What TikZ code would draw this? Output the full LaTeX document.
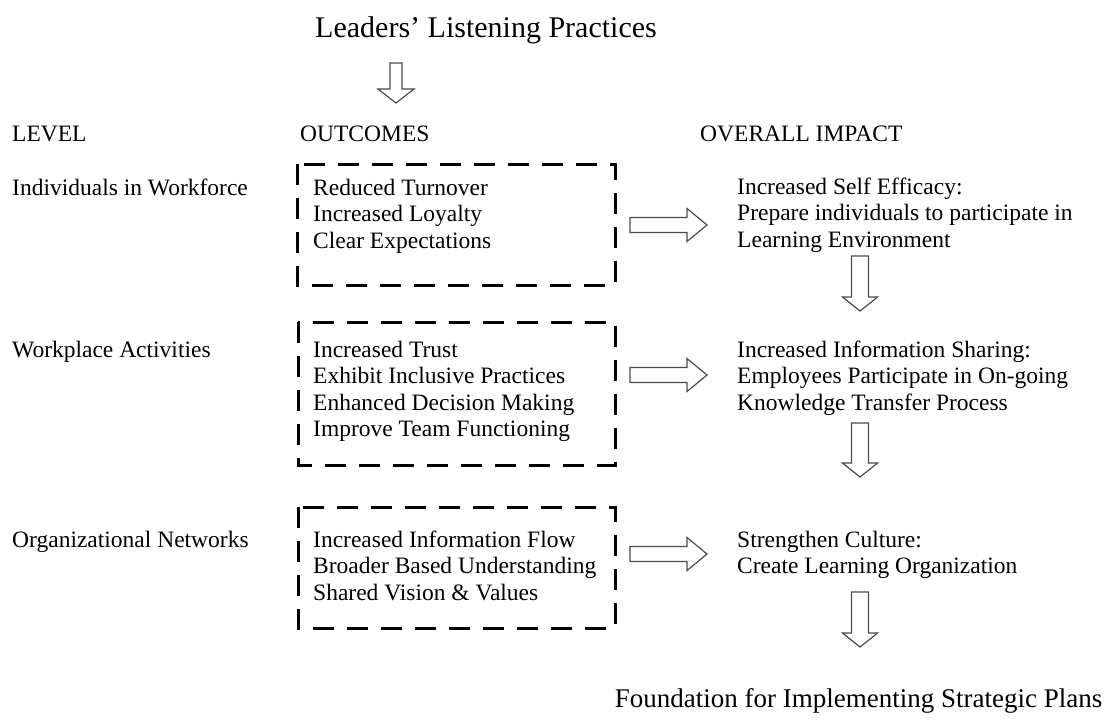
\documentclass[tikz,border=0pt]{standalone}
\usepackage{fontspec}
\setmainfont{Liberation Serif}
\usetikzlibrary{calc}
\newcommand\DArrow[5]{%
  \draw[blockarrow] ($(#1)+(-#3,0)$) -- ($(#2)+(-#3,-#5)$) -- ($(#2)+(-#4,-#5)$) -- (#2)
    -- ($(#2)+(#4,-#5)$) -- ($(#2)+(#3,-#5)$) -- ($(#1)+(#3,0)$) -- cycle;}
\newcommand\RArrow[5]{%
  \draw[blockarrow] ($(#1)+(0,-#3)$) -- ($(#2)+(-#5,-#3)$) -- ($(#2)+(-#5,-#4)$) -- (#2)
    -- ($(#2)+(-#5,#4)$) -- ($(#2)+(-#5,#3)$) -- ($(#1)+(0,#3)$) -- cycle;}
\newcommand\DashBox[1]{%
  \draw[dashline] (#1.north west) -- (#1.south west) -- (#1.south east) -- (#1.north east) -- cycle;}
\begin{document}
\begin{tikzpicture}[x=1pt,y=-1pt,
  txt/.style={anchor=base west, inner sep=0pt, font=\fontsize{23.5}{26.6}\selectfont},
  bigtitle/.style={anchor=base, inner sep=0pt, font=\fontsize{30}{32}\selectfont},
  foot/.style={anchor=base, inner sep=0pt, font=\fontsize{27}{30}\selectfont},
  boxarea/.style={inner sep=0pt, outer sep=0pt},
  dashline/.style={line width=3pt, dash pattern=on 21pt off 13pt, line join=miter},
  blockarrow/.style={draw=black!70, line width=1.2pt, fill=white, line join=miter}]
\useasboundingbox (0,0) rectangle (1107,721);

% title
\node[bigtitle] (title) at (486,37) {Leaders’ Listening Practices};

% headers
\node[txt] (hlevel) at (12,141) {LEVEL};
\node[txt] (hout) at (300,141) {OUTCOMES};
\node[txt] (himp) at (700,141) {OVERALL IMPACT};

% row labels
\node[txt] (lev1) at (12,195) {Individuals in Workforce};
\node[txt] (lev2) at (12,357) {Workplace Activities};
\node[txt] (lev3) at (12,547) {Organizational Networks};

% dashed boxes
\node[boxarea, minimum width=318pt, minimum height=121pt] (b1) at (456,224.5) {};
\node[boxarea, minimum width=317pt, minimum height=143pt] (b2) at (456.5,393.5) {};
\node[boxarea, minimum width=317pt, minimum height=121pt] (b3) at (456.5,567.5) {};
\DashBox{b1}
\DashBox{b2}
\DashBox{b3}

% outcomes
\node[txt] (o1a) at (313,195) {Reduced Turnover};
\node[txt] (o1b) at (313,221.6) {Increased Loyalty};
\node[txt] (o1c) at (313,248.2) {Clear Expectations};

\node[txt] (o2a) at (313,357) {Increased Trust};
\node[txt] (o2b) at (313,383.6) {Exhibit Inclusive Practices};
\node[txt] (o2c) at (313,410.2) {Enhanced Decision Making};
\node[txt] (o2d) at (313,436.8) {Improve Team Functioning};

\node[txt] (o3a) at (313,547) {Increased Information Flow};
\node[txt] (o3b) at (313,573.6) {Broader Based Understanding};
\node[txt] (o3c) at (313,600.2) {Shared Vision \& Values};

% impacts
\node[txt] (i1a) at (737,194) {Increased Self Efficacy:};
\node[txt] (i1b) at (737,220.6) {Prepare individuals to participate in};
\node[txt] (i1c) at (737,247.2) {Learning Environment};

\node[txt] (i2a) at (737,357) {Increased Information Sharing:};
\node[txt] (i2b) at (737,383.6) {Employees Participate in On-going};
\node[txt] (i2c) at (737,410.2) {Knowledge Transfer Process};

\node[txt] (i3a) at (737,547) {Strengthen Culture:};
\node[txt] (i3b) at (737,573.6) {Create Learning Organization};

% foundation
\node[foot] (found) at (858.5,707) {Foundation for Implementing Strategic Plans};

% arrow coordinates
\coordinate (a0s) at (396,63);  \coordinate (a0e) at (396,103);
\coordinate (r1s) at ($(b1.east |- 0,225)+(15,0)$); \coordinate (r1e) at (707,225);
\coordinate (r2s) at ($(b2.east |- 0,375)+(15,0)$); \coordinate (r2e) at (707,375);
\coordinate (r3s) at ($(b3.east |- 0,554)+(15,0)$); \coordinate (r3e) at (707,554);
\coordinate (d1s) at (860,256); \coordinate (d1e) at (860,311);
\coordinate (d2s) at (860,423); \coordinate (d2e) at (860,477);
\coordinate (d3s) at (860,592); \coordinate (d3e) at (860,647);

% block arrows
\DArrow{a0s}{a0e}{6}{18}{14}
\RArrow{r1s}{r1e}{7.5}{16.5}{20}
\RArrow{r2s}{r2e}{7.5}{16.5}{20}
\RArrow{r3s}{r3e}{7.5}{16.5}{20}
\DArrow{d1s}{d1e}{8.5}{17.5}{14}
\DArrow{d2s}{d2e}{8.5}{17.5}{14}
\DArrow{d3s}{d3e}{8.5}{17.5}{14}
\end{tikzpicture}
\end{document}
